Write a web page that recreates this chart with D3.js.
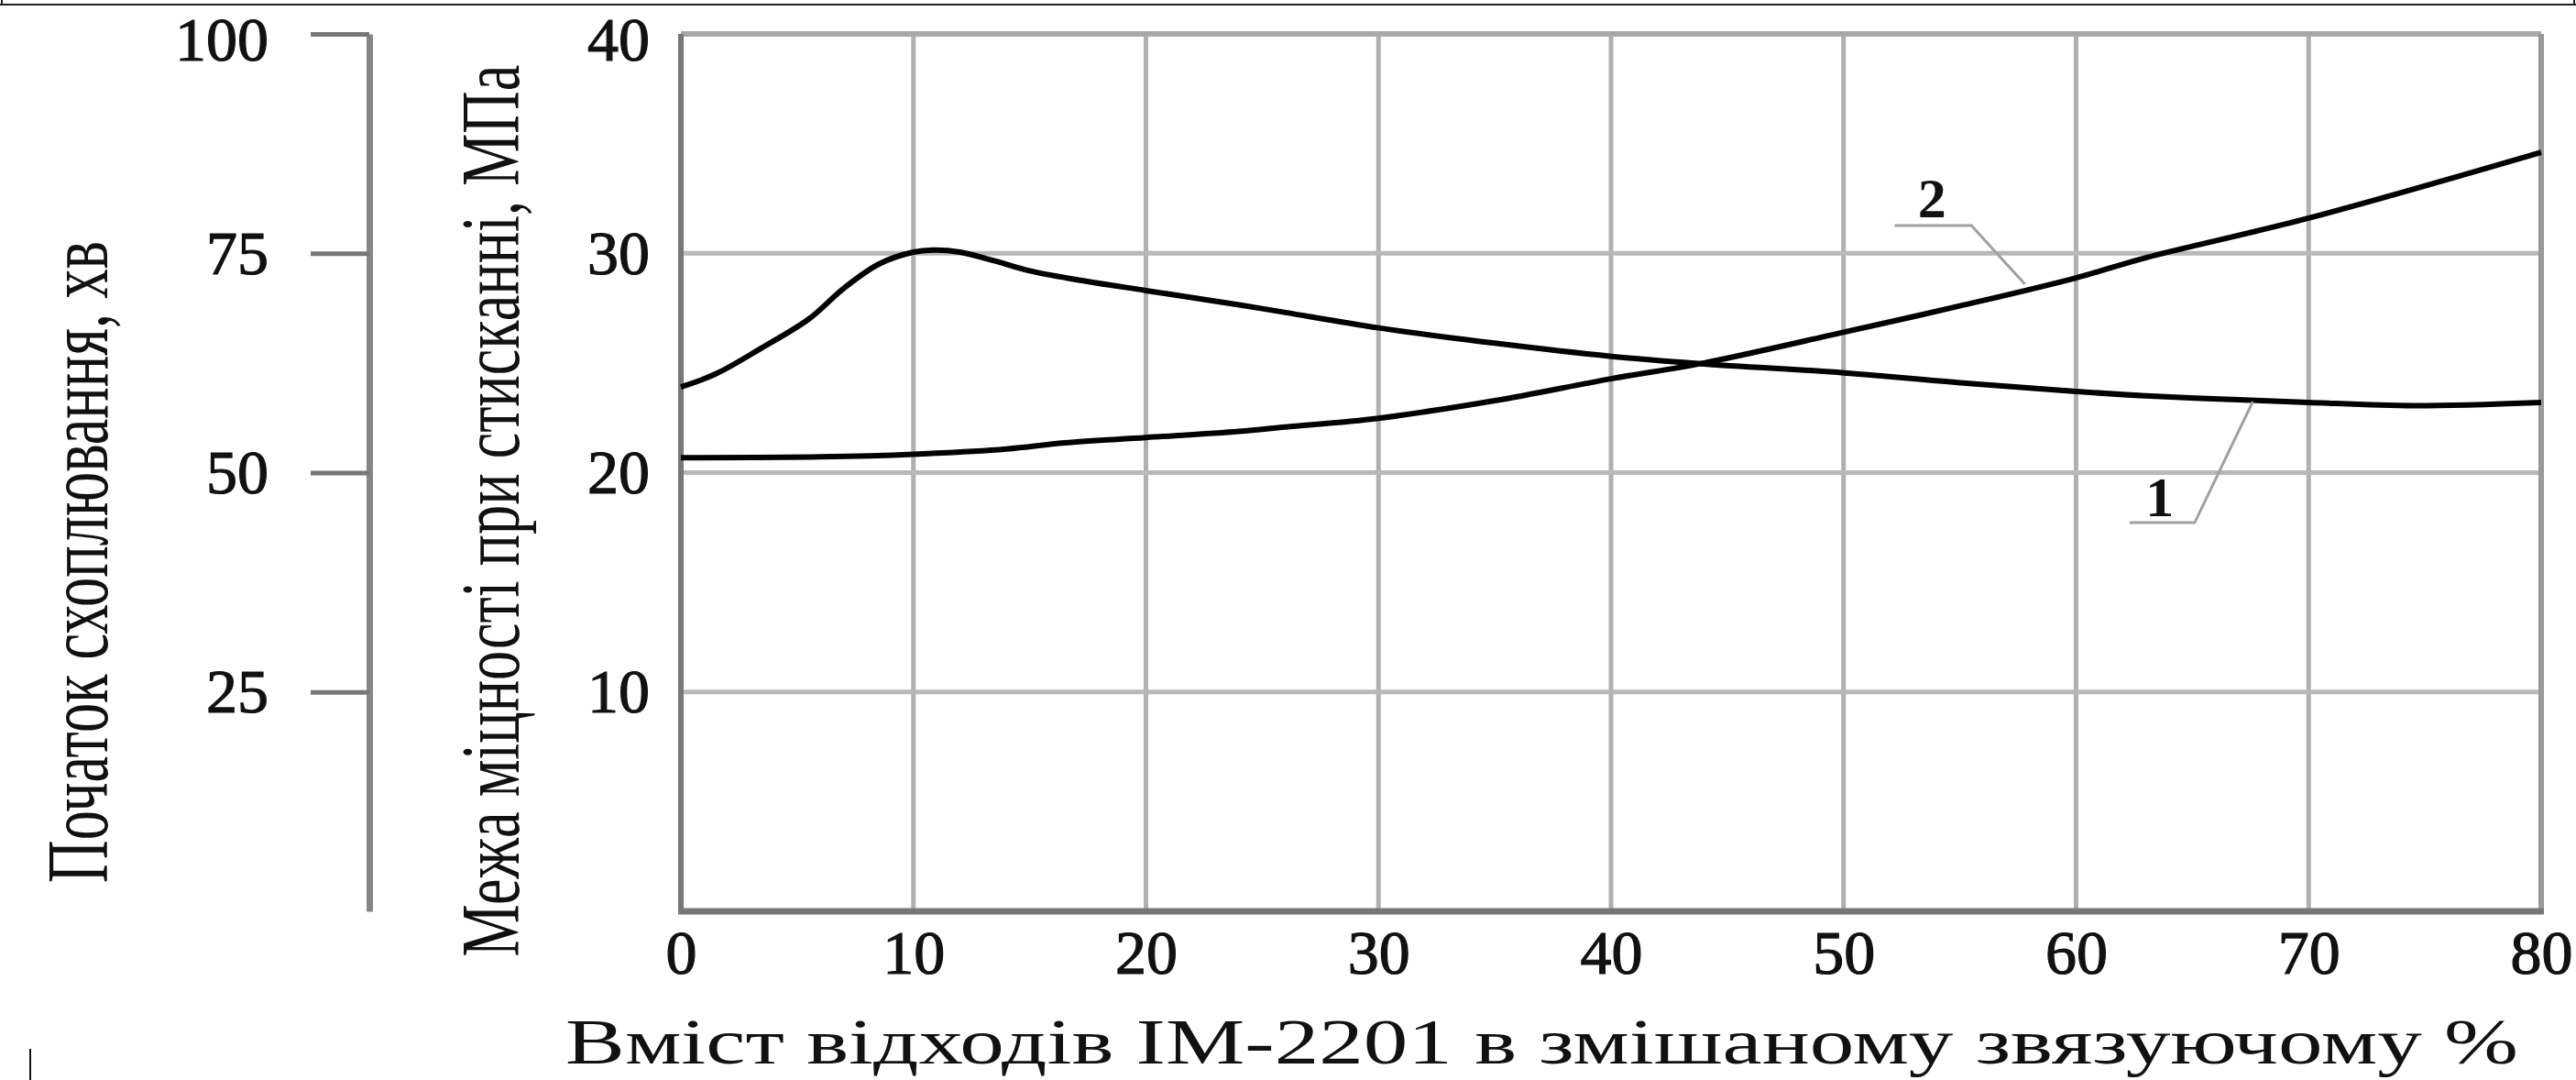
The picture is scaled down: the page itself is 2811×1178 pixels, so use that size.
<!DOCTYPE html>
<html>
<head>
<meta charset="utf-8">
<script src="https://cdn.jsdelivr.net/npm/d3@7"></script>
<style>
  html, body { margin: 0; padding: 0; background: #fff; }
  svg { display: block; }
  text { font-family: "Liberation Serif", "Times New Roman", serif; fill: #111; }
</style>
</head>
<body>
<div class="canvas"></div>
<script>
// ---- data ----
// x: content of IM-2201 waste in the mixed binder, %
const xTicks = [0, 10, 20, 30, 40, 50, 60, 70, 80];
const strengthTicks = [10, 20, 30, 40];     // right scale, MPa
const setTicks = [25, 50, 75, 100];         // left scale, min

// curve 1 - compressive strength, MPa
const strengthX = [0, 1.5, 3.5, 5.5, 7, 8.5, 10, 11, 12, 13.5, 15, 17, 20, 24, 26, 30, 35, 40, 44, 50, 55, 60, 63, 67.5, 70, 74.5, 80];
const strengthY = [23.9, 24.5, 25.7, 27.0, 28.4, 29.5, 30.05, 30.15, 30.05, 29.65, 29.2, 28.8, 28.3, 27.65, 27.3, 26.6, 25.9, 25.3, 24.95, 24.55, 24.1, 23.7, 23.5, 23.3, 23.2, 23.05, 23.2];

// curve 2 - initial setting time, min
const setX = [0, 6, 10, 14, 16.5, 20, 24, 26, 30, 35, 40, 44, 50, 55, 60, 63, 70, 80];
const setY = [51.7, 51.8, 52.1, 52.7, 53.4, 54.0, 54.7, 55.2, 56.2, 58.2, 60.7, 62.5, 66.0, 69.0, 72.2, 74.5, 79.0, 86.5];

// curve labels with leader lines (x in %, y in MPa)
const labels = [
  { name: '2', at: [53.8, 31.64], leader: [[52.2, 31.26], [55.5, 31.26], [57.8, 28.59]] },
  { name: '1', at: [63.6, 18.0], leader: [[62.3, 17.72], [65.1, 17.72], [67.6, 23.24]] }
];

// ---- layout ----
const W = 2811, H = 1178;
const plot = { left: 743, right: 2773, top: 37, bottom: 994 };
const setAxisX = 403;

const svg = d3.select('.canvas').append('svg')
  .attr('width', W)
  .attr('height', H);

// scales
const x = d3.scaleLinear().domain([0, 80]).range([plot.left, plot.right]);
const yR = d3.scaleLinear().domain([0, 40]).range([plot.bottom, plot.top]);
const yL = d3.scaleLinear().domain([0, 100]).range([plot.bottom, plot.top]);

// frame bits at the page edges
svg.append('line').attr('x1', 0).attr('x2', W).attr('y1', 5).attr('y2', 5)
  .attr('stroke', '#222').attr('stroke-width', 2);
svg.append('line').attr('x1', 2).attr('x2', 2).attr('y1', 0).attr('y2', 5)
  .attr('stroke', '#222').attr('stroke-width', 2);
svg.append('line').attr('x1', W - 2).attr('x2', W - 2).attr('y1', 0).attr('y2', 5)
  .attr('stroke', '#222').attr('stroke-width', 2);
svg.append('line').attr('x1', 33).attr('x2', 33).attr('y1', 1144).attr('y2', 1178)
  .attr('stroke', '#111').attr('stroke-width', 2);

// grid
const grid = svg.append('g');
grid.selectAll('.vg').data(xTicks.slice(1, -1)).enter().append('line')
  .attr('x1', d => x(d)).attr('x2', d => x(d))
  .attr('y1', plot.top).attr('y2', plot.bottom)
  .attr('stroke', '#b0b0b0').attr('stroke-width', 5);
grid.selectAll('.hg').data(strengthTicks.slice(0, -1)).enter().append('line')
  .attr('x1', plot.left).attr('x2', plot.right)
  .attr('y1', d => yR(d)).attr('y2', d => yR(d))
  .attr('stroke', '#b8b8b8').attr('stroke-width', 5);

// plot borders
svg.append('line').attr('x1', plot.left).attr('x2', plot.right)
  .attr('y1', plot.top).attr('y2', plot.top)
  .attr('stroke', '#a8a8a8').attr('stroke-width', 6);
svg.append('line').attr('x1', plot.right).attr('x2', plot.right)
  .attr('y1', plot.top).attr('y2', plot.bottom)
  .attr('stroke', '#999').attr('stroke-width', 6);
svg.append('line').attr('x1', plot.left).attr('x2', plot.left)
  .attr('y1', plot.top).attr('y2', plot.bottom)
  .attr('stroke', '#777').attr('stroke-width', 6);
svg.append('line').attr('x1', plot.left - 3).attr('x2', plot.right + 3)
  .attr('y1', plot.bottom).attr('y2', plot.bottom)
  .attr('stroke', '#777').attr('stroke-width', 7);

// tick label look, slightly heavy like the scan
const tickText = sel => sel
  .attr('font-size', 68)
  .attr('font-family', 'Liberation Serif')
  .attr('fill', '#111')
  .attr('stroke', '#111')
  .attr('stroke-width', 1.2);

// x axis labels
const xAxis = d3.axisBottom(x).tickValues(xTicks).tickSize(0).tickPadding(20);
const gx = svg.append('g').attr('transform', `translate(0,${plot.bottom})`).call(xAxis);
gx.select('.domain').remove();
gx.selectAll('text').call(tickText);

// right (strength) axis labels, sitting left of the plot
const yRAxis = d3.axisLeft(yR).tickValues(strengthTicks).tickSize(0).tickPadding(34);
const gyr = svg.append('g').attr('transform', `translate(${plot.left},0)`).call(yRAxis);
gyr.select('.domain').remove();
gyr.selectAll('text').call(tickText);

// left (setting time) axis
const yLAxis = d3.axisLeft(yL).tickValues(setTicks).tickSize(64).tickPadding(46).tickSizeOuter(0);
const gyl = svg.append('g').attr('transform', `translate(${setAxisX},0)`).call(yLAxis);
gyl.select('.domain').attr('stroke', '#868686').attr('stroke-width', 7);
gyl.selectAll('.tick line').attr('stroke', '#777').attr('stroke-width', 5);
gyl.selectAll('text').call(tickText);

// the top labels sit a little below their tick in the original
gyr.selectAll('.tick text').filter(d => d === 40).attr('y', 7);
gyl.selectAll('.tick text').filter(d => d === 100).attr('y', 7);

// axis titles: condensed glyphs, squeezed to the measured length
const squeezedTitle = (cx, cy, angle, size, len, label) => {
  const t = svg.append('text')
    .attr('text-anchor', 'middle')
    .attr('font-size', size)
    .text(label);
  const natural = t.node().getComputedTextLength();
  t.attr('transform', `translate(${cx},${cy}) rotate(${angle}) scale(${len / natural},1)`);
  return t;
};

squeezedTitle(117, 613, -90, 95, 700, 'Початок схоплювання, хв');
squeezedTitle(566, 557, -90, 92, 973, 'Межа міцності при стисканні, МПа');
squeezedTitle(617 + 2131 / 2, 1160, 0, 70, 2131, 'Вміст відходів ІМ-2201 в змішаному звязуючому %');

// curves
const lineR = d3.line().x(d => x(d[0])).y(d => yR(d[1])).curve(d3.curveCatmullRom.alpha(0.5));
const lineL = d3.line().x(d => x(d[0])).y(d => yL(d[1])).curve(d3.curveCatmullRom.alpha(0.5));

svg.append('path')
  .datum(d3.zip(strengthX, strengthY))
  .attr('d', lineR)
  .attr('fill', 'none').attr('stroke', '#000').attr('stroke-width', 6)
  .attr('stroke-linejoin', 'round');

svg.append('path')
  .datum(d3.zip(setX, setY))
  .attr('d', lineL)
  .attr('fill', 'none').attr('stroke', '#000').attr('stroke-width', 6)
  .attr('stroke-linejoin', 'round');

// curve numbers + leaders
const leader = d3.line().x(d => x(d[0])).y(d => yR(d[1]));
labels.forEach(l => {
  svg.append('path').attr('d', leader(l.leader))
    .attr('fill', 'none').attr('stroke', '#a0a0a0').attr('stroke-width', 3);
  svg.append('text')
    .attr('x', x(l.at[0])).attr('y', yR(l.at[1]))
    .attr('text-anchor', 'middle')
    .attr('font-size', 62).attr('font-weight', 'bold')
    .text(l.name);
});
</script>
</body>
</html>
